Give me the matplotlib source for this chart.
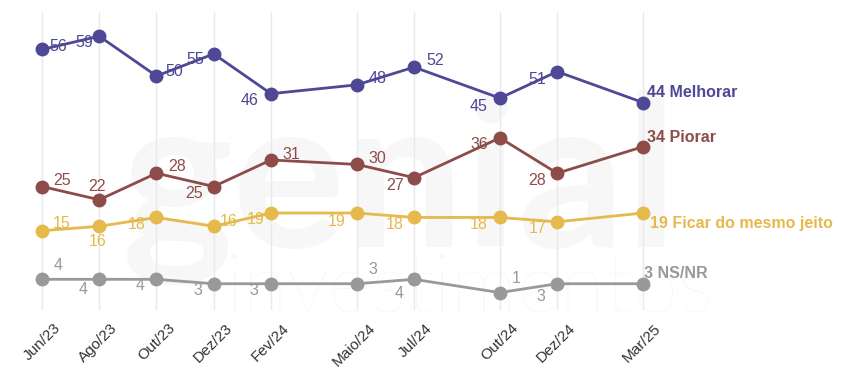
import matplotlib
matplotlib.use("Agg")
import matplotlib.pyplot as plt

plt.rcParams['font.family'] = ['Liberation Sans', 'DejaVu Sans']

# months since Jun/23
months = [0, 2, 4, 6, 8, 11, 13, 16, 18, 21]
month_labels = ["Jun/23", "Ago/23", "Out/23", "Dez/23", "Fev/24",
                "Maio/24", "Jul/24", "Out/24", "Dez/24", "Mar/25"]

melhorar = [56, 59, 50, 55, 46, 48, 52, 45, 51, 44]
piorar = [25, 22, 28, 25, 31, 30, 27, 36, 28, 34]
ficar = [15, 16, 18, 16, 19, 19, 18, 18, 17, 19]
nsnr = [4, 4, 4, 3, 3, 3, 4, 1, 3, 3]

# label offsets in pixels (dx, dy) for each point
off_melhorar = [(16, 3), (-15, -6), (18, 5), (-18, -6), (-21, -7),
                (21, 6), (21, 7), (-21, -8), (-20, -8)]
off_piorar = [(20, 6), (-2, 13), (21, 7), (-20, -7), (20, 5),
              (21, 6), (-19, -8), (-21, -7), (-20, -7)]
off_ficar = [(20, 7), (-2, -15), (-20, -7), (15, 5), (-15, -6),
             (-20, -8), (-19, -7), (-21, -7), (-20, -7)]
off_nsnr = [(16, 14), (-16, -10), (-16, -6), (-16, -7), (-17, -7),
            (16, 14), (-15, -14), (16, 14), (-16, -13)]

series = [
    (melhorar, "Melhorar", "#4e4896", off_melhorar, (4, 10)),
    (piorar, "Piorar", "#8d4c4a", off_piorar, (4, 9)),
    (ficar, "Ficar do mesmo jeito", "#e5b94b", off_ficar, (7, -10)),
    (nsnr, "NS/NR", "#999999", off_nsnr, (1, 10)),
]

fig = plt.figure(figsize=(8.52, 3.88), dpi=100)
ax = fig.add_axes([0, 1 - 310 / 388, 1, 298 / 388])

px_month = 28.62
x0 = 42
ax.set_xlim(-x0 / px_month, (852 - x0) / px_month)
ax.set_ylim(-13 / 4.42, 285 / 4.42)

# faint logo watermark
ax.text(400 / 852, 63 / 298, "genial", transform=ax.transAxes, ha='center',
        va='baseline', fontsize=152, fontweight='bold', color='#f6f7f6',
        family='Lato', zorder=0)
ax.text(470 / 852, -2 / 298, "investimentos", transform=ax.transAxes, ha='center',
        va='baseline', fontsize=60, fontweight='light', color='#f6f7f6',
        family='Lato', zorder=0)

for m in months:
    ax.axvline(m, color='#e9e9e9', lw=1, zorder=1)

for vals, name, color, offs, last_off in series:
    ax.plot(months, vals, color=color, lw=2, marker='o', markersize=9, zorder=3)
    for m, v, (dx, dy) in zip(months[:-1], vals[:-1], offs):
        ax.annotate(str(v), (m, v), xytext=(dx, dy), textcoords='offset pixels',
                    ha='center', va='center', fontsize=11.5, color=color, zorder=4)
    ax.annotate(f"{vals[-1]} {name}", (months[-1], vals[-1]), xytext=last_off,
                textcoords='offset pixels', ha='left', va='center',
                fontsize=11.5, fontweight='bold', color=color, zorder=4)

for m, lab in zip(months, month_labels):
    ax.annotate(lab, (m, 0), xycoords=('data', 'axes fraction'), xytext=(16, -16),
                textcoords='offset pixels', ha='right', va='center', rotation=45,
                rotation_mode='anchor', fontsize=11, color='#333333',
                annotation_clip=False)

ax.axis('off')
fig.savefig("out.png", dpi=100)
